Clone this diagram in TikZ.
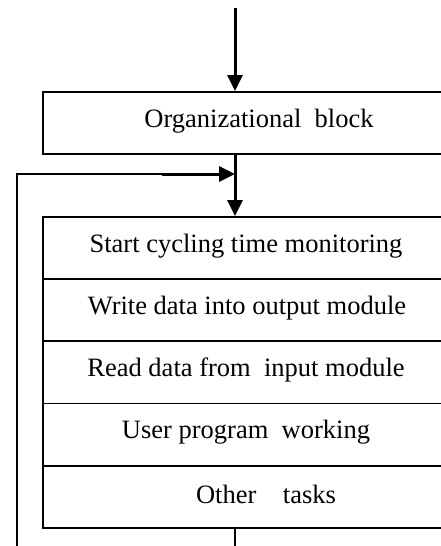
\documentclass[tikz,border=0pt]{standalone}
\usepackage{fontspec}
\setmainfont{Liberation Serif}
\usetikzlibrary{arrows.meta}
\begin{document}
\begin{tikzpicture}[x=1pt,y=-1pt,
  box/.style={draw,line width=1.8pt,minimum width=420pt,minimum height=62.2pt,anchor=north west,inner sep=0pt},
  lbl/.style={font=\fontsize{26.5}{28}\selectfont,inner sep=0pt},
  thinline/.style={line width=1.8pt},
  heavy/.style={line width=3pt},
  tip/.style={-{Triangle[length=16pt,width=15pt]}}
]
\useasboundingbox (0,0) rectangle (441,546);
\clip (0,0) rectangle (441,546);
% boxes
\node[box,minimum height=62pt] (org) at (42,91) {};
\node[box] (r1) at (42,216) {};
\node[box] (r2) at (42,278.2) {};
\node[box] (r3) at (42,340.4) {};
\node[box] (r4) at (42,402.6) {};
\node[box] (r5) at (42,464.8) {};
% texts
\node[lbl] (t0) at (259,121) {Organizational\ \ block};
\node[lbl] (t1) at (246,246) {Start cycling time monitoring};
\node[lbl] (t2) at (247,308) {Write data into output module};
\node[lbl] (t3) at (246,370) {Read data from\ \ input module};
\node[lbl] (t4) at (246,432) {User program\ \ working};
\node[lbl] (t5) at (266,494) {Other\ \ \ \ tasks};
% connectors
\coordinate (in) at (235,8);
\coordinate (merge) at (235,174);
\coordinate (out) at (235,546);
\coordinate (loopbot) at (17,546);
\coordinate (looptop) at (17,174);
\coordinate (loopmid) at (162,174);
\draw[heavy,tip] (in) -- (in |- org.north);
\draw[heavy,tip] (org.south -| in) -- (r1.north -| in);
\draw[thinline] (r5.south -| in) -- (out);
\draw[thinline] (loopbot) -- (looptop) -- (loopmid);
\draw[heavy,tip] (loopmid) -- (merge);
\end{tikzpicture}
\end{document}
